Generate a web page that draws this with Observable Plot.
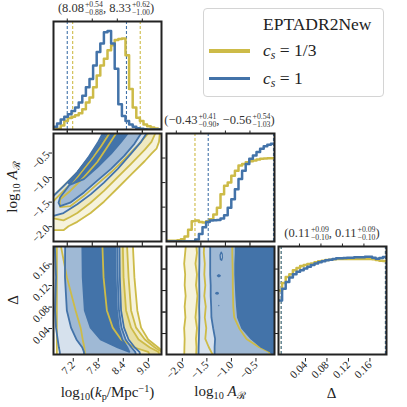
<!DOCTYPE html>
<html><head><meta charset="utf-8">
<script src="https://cdn.jsdelivr.net/npm/d3@7"></script>
<script src="https://cdn.jsdelivr.net/npm/@observablehq/plot@0.6"></script>
<style>
body{margin:0;background:#fff;}
#wrap{position:relative;width:407px;height:407px;overflow:hidden;font-family:"Liberation Serif","DejaVu Serif",serif;color:#222;}
.txt{position:absolute;white-space:nowrap;line-height:1;}
.sb{font-size:0.68em;vertical-align:-0.3em;}
.sp{font-size:0.68em;vertical-align:0.45em;}
.ss{display:inline-block;font-size:0.62em;line-height:1.05;vertical-align:-0.45em;text-align:left;margin-left:1px;}
.ss span{display:block;}
svg text{font-family:"Liberation Serif","DejaVu Serif",serif;}
</style></head>
<body><div id="wrap"></div>
<script>
// ---------------- data ----------------
const kDomain = [6.87, 9.46];
const aDomain = [-2.2, 0];
const dDomain = [0.001, 0.202];
const kTicks = [7.2, 7.8, 8.4, 9.0];
const aTicks = [-2.0, -1.5, -1.0, -0.5];
const dTicks = [0.04, 0.08, 0.12, 0.16];
const histMax = 320;

// marginal histograms (30 bins over each domain)
const kHistBlue   = [8,18,30,38,45,55,65,80,100,125,150,190,230,255,288,292,255,180,75,40,25,15,8,4,2,1,0,0,0,0];
const kHistYellow = [0,2,12,25,34,38,42,48,60,80,95,125,160,190,210,235,250,265,268,270,220,120,65,35,25,15,10,6,3,1];
const aHistBlue   = [0,0,0,0,0,0,0,0,6,22,42,58,62,63,64,68,78,100,125,155,185,210,230,245,255,265,275,282,287,290];
const aHistYellow = [2,2,2,4,7,15,35,60,62,58,56,60,66,80,100,140,165,175,195,210,225,230,235,238,240,243,245,246,247,247];
const dHistBlue   = [160,195,215,228,238,245,250,255,260,265,270,273,276,279,281,283,285,285,286,287,287,288,288,288,290,290,287,284,286,289];
const dHistYellow = [190,212,230,238,250,256,262,265,268,270,273,276,278,280,281,282,283,283,283,283,283,283,283,283,283,283,282,280,278,277];

// 16/84 quantile markers
const kQuantBlue = [7.20, 8.62], kQuantYellow = [7.33, 8.95];
const aQuantBlue = [-1.35, -0.02], aQuantYellow = [-1.62, -0.02];
const dQuantBlue = [0.006, 0.2], dQuantYellow = [0.006, 0.2];

// 2D credible regions, outer -> inner, as [x, y] vertices
const kA_yellow = [
 [[6.80,-1.97],[7.11,-1.97],[7.23,-1.89],[7.44,-1.80],[7.76,-1.62],[8.08,-1.39],[8.41,-1.11],[8.73,-0.84],[9.06,-0.56],[9.22,-0.41],[9.34,-0.31],[9.40,-0.17],[9.42,0],[9.43,0.05],[8.14,0.05],[8.12,0],[8.00,-0.17],[7.76,-0.45],[7.44,-0.79],[7.11,-1.07],[6.87,-1.27],[6.80,-1.32]],
 [[6.80,-1.73],[6.87,-1.73],[7.11,-1.77],[7.27,-1.70],[7.44,-1.62],[7.76,-1.41],[8.08,-1.17],[8.41,-0.89],[8.73,-0.62],[9.06,-0.33],[9.22,-0.17],[9.31,0],[9.33,0.05],[8.22,0.05],[8.21,0],[8.00,-0.275],[7.76,-0.55],[7.44,-0.89],[7.11,-1.17],[6.87,-1.375],[6.80,-1.42]],
 [[7.02,-1.41],[7.03,-1.50],[7.27,-1.48],[7.60,-1.27],[7.92,-1.03],[8.25,-0.79],[8.57,-0.52],[8.89,-0.24],[9.14,0],[9.16,0.05],[8.38,0.05],[8.37,0],[8.16,-0.275],[7.92,-0.58],[7.60,-0.89],[7.27,-1.17],[7.03,-1.34]]
];
const kA_blue = [
 [[6.80,-1.70],[6.87,-1.68],[7.11,-1.62],[7.44,-1.44],[7.76,-1.24],[8.08,-1.00],[8.41,-0.72],[8.73,-0.41],[8.97,-0.17],[9.10,0],[9.12,0.05],[8.14,0.05],[8.12,0],[8.00,-0.17],[7.76,-0.45],[7.44,-0.79],[7.11,-1.07],[6.87,-1.27],[6.80,-1.32]],
 [[6.99,-1.41],[7.03,-1.48],[7.27,-1.41],[7.60,-1.20],[7.92,-0.96],[8.25,-0.72],[8.57,-0.45],[8.81,-0.21],[8.97,0],[8.99,0.05],[8.13,0.05],[8.11,0],[7.99,-0.20],[7.80,-0.45],[7.55,-0.72],[7.27,-1.03],[7.03,-1.30]],
 [[7.22,-1.00],[7.27,-1.04],[7.60,-0.93],[7.92,-0.69],[8.25,-0.41],[8.49,-0.17],[8.65,0],[8.67,0.05],[8.06,0.05],[8.05,0],[7.93,-0.19],[7.72,-0.47],[7.44,-0.79],[7.27,-0.95]]
];
const kD_yellow = [
 [[6.95,0.21],[6.95,-0.01],[9.55,-0.01],[9.50,0.006],[9.38,0.014],[9.14,0.029],[8.97,0.051],[8.88,0.083],[8.81,0.145],[8.77,0.21]],
 [[7.03,0.21],[7.19,0.145],[7.40,0.083],[7.52,0.051],[7.57,0.029],[7.61,0.014],[7.62,0.006],[7.63,-0.01],[9.50,-0.01],[9.46,0.006],[9.30,0.014],[9.06,0.029],[8.85,0.051],[8.73,0.083],[8.67,0.145],[8.63,0.21]],
 [[8.04,0.21],[8.07,0.145],[8.15,0.083],[8.29,0.051],[8.49,0.029],[8.81,0.014],[9.14,0.006],[9.25,-0.01],[9.50,-0.01],[9.38,0.006],[9.18,0.014],[8.91,0.029],[8.73,0.051],[8.61,0.083],[8.55,0.145],[8.53,0.21]]
];
const kD_blue = [
 [[6.90,0.21],[6.93,0.145],[6.91,0.083],[6.93,0.051],[6.97,0.029],[7.00,0.014],[7.02,0.006],[7.03,-0.01],[8.99,-0.01],[8.93,0.006],[8.82,0.014],[8.67,0.029],[8.56,0.051],[8.49,0.083],[8.46,0.145],[8.45,0.21]],
 [[7.15,0.21],[7.145,0.145],[7.19,0.083],[7.29,0.051],[7.42,0.029],[7.56,0.014],[7.60,0.006],[7.61,-0.01],[8.88,-0.01],[8.83,0.006],[8.74,0.014],[8.60,0.029],[8.50,0.051],[8.44,0.083],[8.41,0.145],[8.40,0.21]],
 [[7.56,0.21],[7.57,0.145],[7.62,0.083],[7.76,0.051],[8.00,0.029],[8.41,0.014],[8.69,0.006],[8.64,0.014],[8.52,0.029],[8.44,0.051],[8.39,0.083],[8.36,0.145],[8.35,0.21]]
];
const aD_yellow = [
 [[-1.80,0.21],[-1.82,0.19],[-1.84,0.17],[-1.82,0.15],[-1.83,0.13],[-1.81,0.11],[-1.83,0.09],[-1.815,0.07],[-1.84,0.05],[-1.83,0.03],[-1.835,0.015],[-1.84,-0.01],[0.05,-0.01],[0.05,0.21]],
 [[-1.60,0.21],[-1.58,0.19],[-1.61,0.17],[-1.58,0.15],[-1.60,0.13],[-1.57,0.11],[-1.59,0.09],[-1.61,0.07],[-1.58,0.05],[-1.60,0.03],[-1.59,0.015],[-1.60,-0.01],[0.05,-0.01],[0.05,0.21]],
 [[-1.43,0.21],[-1.44,0.19],[-1.42,0.17],[-1.43,0.15],[-1.41,0.13],[-1.43,0.11],[-1.40,0.09],[-1.42,0.07],[-1.39,0.05],[-1.41,0.03],[-1.34,0.015],[-1.20,-0.01],[0.05,-0.01],[0.05,0.21]],
 [[-0.86,0.21],[-0.86,0.19],[-0.855,0.17],[-0.85,0.15],[-0.85,0.13],[-0.845,0.11],[-0.84,0.09],[-0.82,0.07],[-0.72,0.05],[-0.57,0.03],[-0.32,0.015],[-0.12,0.006],[0.02,-0.01],[0.05,-0.01],[0.05,0.21]]
];
const aD_blue = [
 [[-1.53,0.21],[-1.53,0.17],[-1.535,0.15],[-1.53,0.11],[-1.535,0.09],[-1.53,0.07],[-1.535,0.05],[-1.54,0.03],[-1.545,0.015],[-1.55,-0.01],[0.05,-0.01],[0.05,0.21]],
 [[-1.31,0.21],[-1.31,0.15],[-1.30,0.13],[-1.30,0.11],[-1.29,0.09],[-1.285,0.07],[-1.25,0.05],[-1.21,0.03],[-1.22,0.015],[-1.22,-0.01],[0.05,-0.01],[0.05,0.21]],
 [[-0.79,0.21],[-0.79,0.19],[-0.80,0.17],[-0.80,0.15],[-0.79,0.13],[-0.78,0.11],[-0.765,0.09],[-0.745,0.07],[-0.66,0.05],[-0.47,0.03],[-0.27,0.015],[-0.08,0.006],[0.02,-0.01],[0.05,-0.01],[0.05,0.21]]
];
const aD_blueHoles = [
 [[-1.086,0.1915],[-1.066,0.188],[-1.062,0.181],[-1.078,0.1765],[-1.100,0.178],[-1.108,0.186]]
];
const aD_blueIslands = [
 [[-1.134,0.1506],[-1.10,0.149],[-1.09,0.1475],[-1.10,0.146],[-1.134,0.1444],[-1.168,0.146],[-1.178,0.1475],[-1.168,0.149]],
 [[-1.17,0.118],[-1.14,0.1168],[-1.132,0.115],[-1.14,0.1132],[-1.17,0.112],[-1.20,0.1132],[-1.208,0.115],[-1.20,0.1168]],
 [[-1.134,0.0935],[-1.12,0.092],[-1.134,0.0905],[-1.148,0.092]]
];

// ---------------- style ----------------
const BLUE = "#4373a9", YELLOW = "#cdbb48";
const blueFills = ["#d6e1ed", "#9fb9d5", "#4373a9"];
const yellowFills = ["#f6f3dd", "#efe9c2", "#e7dea3", "#d9cb76"];
const SERIF = '"Liberation Serif","DejaVu Serif",serif';
const SZ = 108;
const colL = [53, 165.5, 278];
const rowT = [20.5, 133, 245.5];
const wrap = document.getElementById("wrap");

const fmt1 = d => (d < 0 ? "\u2212" : "") + Math.abs(d).toFixed(1);
const fmt2 = d => Math.abs(d).toFixed(2);
const blank = () => "";

function xAxes(ticks, fmt) {
  const m = [Plot.axisX(ticks, {anchor: "top", tickSize: 3.5, tickFormat: blank, label: null})];
  if (fmt) m.push(Plot.axisX(ticks, {anchor: "bottom", tickSize: 3.5, tickPadding: 1, tickRotate: -45, tickFormat: fmt, label: null, dx: 6, dy: 4}));
  else m.push(Plot.axisX(ticks, {anchor: "bottom", tickSize: 3.5, tickFormat: blank, label: null}));
  return m;
}
function yAxes(ticks, fmt) {
  const m = [Plot.axisY(ticks, {anchor: "right", tickSize: 3.5, tickFormat: blank, label: null})];
  if (fmt) m.push(Plot.axisY(ticks, {anchor: "left", tickSize: 3.5, tickPadding: 1, tickRotate: -45, tickFormat: fmt, label: null, dx: -1, dy: -5}));
  else m.push(Plot.axisY(ticks, {anchor: "left", tickSize: 3.5, tickFormat: blank, label: null}));
  return m;
}
const P = {x: d => d[0], y: d => d[1], curve: "linear-closed", clip: true};
function contourMarks(yPolys, bPolys, holes = [], islands = []) {
  const m = [];
  yPolys.forEach((p, i) => m.push(Plot.line(p, {...P, fill: yellowFills[i], stroke: "none"})));
  bPolys.forEach((p, i) => m.push(Plot.line(p, {...P, fill: blueFills[i], stroke: "none"})));
  holes.forEach(p => m.push(Plot.line(p, {...P, fill: "#e4ebf3", stroke: "none"})));
  islands.forEach(p => m.push(Plot.line(p, {...P, fill: BLUE, stroke: "none"})));
  yPolys.forEach(p => m.push(Plot.line(p, {...P, fill: "none", stroke: YELLOW, strokeWidth: 1.8})));
  bPolys.forEach(p => m.push(Plot.line(p, {...P, fill: "none", stroke: BLUE, strokeWidth: 1.8})));
  holes.forEach(p => m.push(Plot.line(p, {...P, fill: "none", stroke: BLUE, strokeWidth: 1.4})));
  return m;
}
function steps(counts, domain) {
  const n = counts.length, w = (domain[1] - domain[0]) / n;
  const pts = counts.map((c, i) => ({x: domain[0] + i * w, y: c}));
  pts.push({x: domain[1], y: counts[n - 1]});
  return pts;
}
function histMarks(yc, bc, domain, qy, qb) {
  return [
    Plot.ruleX(qy, {stroke: YELLOW, strokeWidth: 1.1, strokeDasharray: "3,2"}),
    Plot.ruleX(qb, {stroke: BLUE, strokeWidth: 1.1, strokeDasharray: "3,2"}),
    Plot.line(steps(yc, domain), {x: "x", y: "y", curve: "step-after", stroke: YELLOW, strokeWidth: 2.5, clip: true}),
    Plot.line(steps(bc, domain), {x: "x", y: "y", curve: "step-after", stroke: BLUE, strokeWidth: 2.5, clip: true})
  ];
}
function panel(col, row, xd, yd, marks, yAxisNull) {
  const svg = Plot.plot({
    width: SZ, height: SZ, marginTop: 0, marginRight: 0, marginBottom: 0, marginLeft: 0,
    x: {domain: xd}, y: yAxisNull ? {domain: yd, axis: null} : {domain: yd},
    style: {background: "none", overflow: "visible", fontFamily: SERIF, fontSize: "11px", color: "#222"},
    marks: [...marks, Plot.frame({stroke: "#222", strokeWidth: 2})]
  });
  svg.style.position = "absolute";
  svg.style.left = colL[col] + "px";
  svg.style.top = rowT[row] + "px";
  wrap.appendChild(svg);
}

// row 0
panel(0, 0, kDomain, [0, histMax], [...histMarks(kHistYellow, kHistBlue, kDomain, kQuantYellow, kQuantBlue), ...xAxes(kTicks, null)], true);
// row 1
panel(0, 1, kDomain, aDomain, [...contourMarks(kA_yellow, kA_blue), ...xAxes(kTicks, null), ...yAxes(aTicks, fmt1)]);
panel(1, 1, aDomain, [0, histMax], [...histMarks(aHistYellow, aHistBlue, aDomain, aQuantYellow, aQuantBlue), ...xAxes(aTicks, null)], true);
// row 2
panel(0, 2, kDomain, dDomain, [...contourMarks(kD_yellow, kD_blue), ...xAxes(kTicks, fmt1), ...yAxes(dTicks, fmt2)]);
panel(1, 2, aDomain, dDomain, [...contourMarks(aD_yellow, aD_blue, aD_blueHoles, aD_blueIslands), ...xAxes(aTicks, fmt1), ...yAxes(dTicks, null)]);
panel(2, 2, dDomain, [0, histMax], [...histMarks(dHistYellow, dHistBlue, dDomain, dQuantYellow, dQuantBlue), ...xAxes(dTicks, fmt2)], true);

// ---------------- text ----------------
function addText(html, cx, cy, size, extra = "") {
  const el = document.createElement("div");
  el.className = "txt";
  el.innerHTML = html;
  el.style.fontSize = size + "px";
  el.style.left = cx + "px";
  el.style.top = cy + "px";
  el.style.transform = "translate(-50%,-50%)" + extra;
  wrap.appendChild(el);
  return el;
}
const ss = (a, b) => `<span class="ss"><span>${a}</span><span>${b}</span></span>`;
addText(`(8.08${ss("+0.54", "\u22120.88")}, 8.33${ss("+0.62", "\u22121.00")})`, 106, 9, 12.5).style.color = "#333";
addText(`(\u22120.43${ss("+0.41", "\u22120.90")}, \u22120.56${ss("+0.54", "\u22121.03")})`, 219.5, 121, 12.5).style.color = "#333";
addText(`(0.11${ss("+0.09", "\u22120.10")}, 0.11${ss("+0.09", "\u22120.10")})`, 332, 233.5, 12.5).style.color = "#333";

addText(`log<span class="sb">10</span>(<i>k</i><span class="sb">p</span>/Mpc<span class="sp">\u22121</span>)`, 107.5, 393, 15);
addText(`log<span class="sb">10</span> <i>A</i><span class="sb">\u211B</span>`, 220, 393, 15);
addText(`\u0394`, 331.5, 393, 15);
addText(`log<span class="sb">10</span> <i>A</i><span class="sb">\u211B</span>`, 14, 187, 15, " rotate(-90deg)");
addText(`\u0394`, 13, 300, 15, " rotate(-90deg)");

// legend
const leg = document.createElement("div");
leg.style.cssText = "position:absolute;left:203px;top:8px;width:181px;height:89px;border:1px solid #d4d4d4;border-radius:4px;box-sizing:border-box;background:rgba(255,255,255,0.85);";
wrap.appendChild(leg);
function swatch(color, cy) {
  const s = document.createElement("div");
  s.style.cssText = `position:absolute;left:209px;top:${cy - 1.75}px;width:41px;height:3.5px;background:${color};`;
  wrap.appendChild(s);
}
swatch(YELLOW, 51);
swatch(BLUE, 78.5);
function legText(html, cy) {
  const el = document.createElement("div");
  el.className = "txt";
  el.innerHTML = html;
  el.style.fontSize = "17.5px";
  el.style.left = "263px";
  el.style.top = cy + "px";
  el.style.transform = "translateY(-50%)";
  wrap.appendChild(el);
}
legText("EPTADR2New", 25);
legText(`<i>c</i><span class="sb"><i>s</i></span> = 1/3`, 52);
legText(`<i>c</i><span class="sb"><i>s</i></span> = 1`, 79.5);
</script>
</body></html>
